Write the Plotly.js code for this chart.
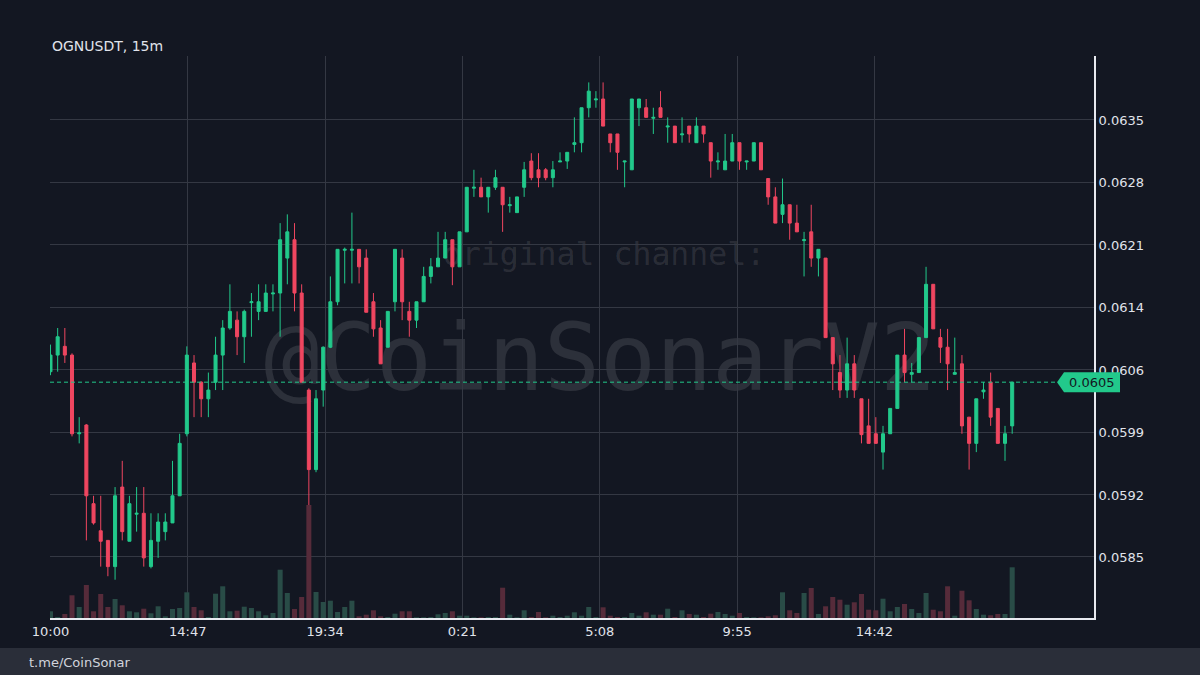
<!DOCTYPE html>
<html>
<head>
<meta charset="utf-8">
<script src="https://cdn.plot.ly/plotly-3.0.1.min.js"></script>
<style>
  html, body { margin: 0; padding: 0; background: #131722; }
  #wrap { position: relative; width: 1200px; height: 675px; overflow: hidden; }
  #wm { position: absolute; left: 0; top: 0; z-index: 0; }
  #chart { position: absolute; left: 0; top: 0; width: 1200px; height: 675px; z-index: 1; }
</style>
</head>
<body>
<div id="wrap">
  <svg id="wm" width="1200" height="675" xmlns="http://www.w3.org/2000/svg">
    <text x="604" y="265" text-anchor="middle" font-family="DejaVu Sans Mono" font-size="31.5" fill="rgba(255,255,255,0.11)">original channel:</text>
    <text x="600" y="390" text-anchor="middle" font-family="DejaVu Sans Mono" font-size="93" fill="rgba(255,255,255,0.11)">@CoinSonarV2</text>
  </svg>
  <div id="chart"></div>
</div>
<script>
// ---- data (OGNUSDT, 15m candles) ----
const symbolTitle = "OGNUSDT, 15m";
const footerText = "t.me/CoinSonar";
const startTime = "2024-01-01 10:00";
const intervalMinutes = 15;

const open = [0.06062,0.06081,0.06091,0.06081,0.05991,0.06001,0.05911,0.05880,0.05869,0.05839,
0.05930,0.05868,0.05899,0.05900,0.05839,0.05868,0.05879,0.05889,0.05920,0.05991,
0.06072,0.06050,0.06031,0.06050,0.06081,0.06112,0.06121,0.06102,0.06141,0.06131,
0.06131,0.06151,0.06152,0.06192,0.06213,0.06152,0.06041,0.05950,0.06041,0.06090,
0.06142,0.06201,0.06201,0.06202,0.06192,0.06142,0.06112,0.06090,0.06142,0.06192,
0.06131,0.06121,0.06142,0.06171,0.06182,0.06192,0.06213,0.06182,0.06222,0.06272,
0.06273,0.06262,0.06273,0.06273,0.06252,0.06244,0.06273,0.06303,0.06293,0.06293,
0.06284,0.06302,0.06303,0.06322,0.06324,0.06364,0.06373,0.06374,0.06334,0.06334,
0.06302,0.06293,0.06364,0.06364,0.06352,0.06364,0.06342,0.06343,0.06333,0.06343,
0.06324,0.06343,0.06324,0.06302,0.06293,0.06303,0.06324,0.06302,0.06303,0.06324,
0.06283,0.06262,0.06242,0.06253,0.06232,0.06212,0.06222,0.06192,0.06192,0.06101,
0.06061,0.06041,0.06071,0.06031,0.06000,0.05991,0.05970,0.05991,0.06020,0.06081,
0.06059,0.06061,0.06101,0.06162,0.06101,0.06090,0.06059,0.06071,0.06010,0.05980,
0.06039,0.06050,0.06020,0.05980,0.06000];

const high = [0.06093,0.06112,0.06112,0.06083,0.06010,0.06002,0.05920,0.05920,0.05869,0.05930,
0.05960,0.05920,0.05930,0.05930,0.05900,0.05900,0.05900,0.05960,0.05991,0.06091,
0.06081,0.06051,0.06061,0.06102,0.06121,0.06162,0.06131,0.06133,0.06152,0.06162,
0.06162,0.06162,0.06232,0.06242,0.06232,0.06162,0.06043,0.06041,0.06091,0.06171,
0.06202,0.06204,0.06244,0.06202,0.06202,0.06152,0.06121,0.06131,0.06202,0.06202,
0.06142,0.06142,0.06182,0.06192,0.06222,0.06222,0.06213,0.06222,0.06273,0.06293,
0.06284,0.06273,0.06293,0.06273,0.06262,0.06262,0.06302,0.06312,0.06312,0.06295,
0.06303,0.06313,0.06313,0.06353,0.06364,0.06393,0.06383,0.06393,0.06334,0.06334,
0.06303,0.06374,0.06374,0.06374,0.06364,0.06383,0.06353,0.06343,0.06353,0.06343,
0.06353,0.06343,0.06324,0.06313,0.06334,0.06334,0.06324,0.06303,0.06324,0.06324,
0.06283,0.06273,0.06283,0.06253,0.06253,0.06222,0.06253,0.06202,0.06192,0.06101,
0.06081,0.06101,0.06081,0.06031,0.06031,0.06010,0.06000,0.06020,0.06081,0.06111,
0.06072,0.06101,0.06182,0.06162,0.06111,0.06111,0.06101,0.06081,0.06010,0.06031,
0.06050,0.06061,0.06020,0.06000,0.06050];

const low = [0.06058,0.06062,0.06072,0.05988,0.05980,0.05869,0.05887,0.05839,0.05828,0.05824,
0.05869,0.05868,0.05879,0.05839,0.05837,0.05849,0.05869,0.05889,0.05920,0.05988,
0.06010,0.06010,0.06010,0.06041,0.06041,0.06110,0.06081,0.06072,0.06102,0.06121,
0.06131,0.06131,0.06102,0.06162,0.06131,0.06050,0.05906,0.05947,0.06022,0.06089,
0.06138,0.06163,0.06163,0.06163,0.06130,0.06102,0.06071,0.06090,0.06131,0.06121,
0.06102,0.06112,0.06142,0.06163,0.06182,0.06192,0.06161,0.06182,0.06222,0.06262,
0.06262,0.06244,0.06270,0.06222,0.06244,0.06244,0.06262,0.06281,0.06273,0.06281,
0.06273,0.06302,0.06294,0.06313,0.06313,0.06353,0.06364,0.06343,0.06313,0.06293,
0.06273,0.06293,0.06343,0.06353,0.06334,0.06353,0.06324,0.06324,0.06324,0.06324,
0.06324,0.06324,0.06284,0.06293,0.06293,0.06303,0.06293,0.06293,0.06303,0.06293,
0.06253,0.06232,0.06232,0.06213,0.06222,0.06171,0.06182,0.06171,0.06101,0.06041,
0.06032,0.06032,0.06032,0.05980,0.05980,0.05980,0.05950,0.05991,0.06020,0.06050,
0.06050,0.06061,0.06101,0.06111,0.06072,0.06041,0.06059,0.05991,0.05950,0.05970,
0.06031,0.06000,0.05980,0.05960,0.05991];

const close = [0.06081,0.06102,0.06081,0.05991,0.05992,0.05920,0.05889,0.05868,0.05839,0.05920,
0.05879,0.05911,0.05900,0.05849,0.05869,0.05890,0.05890,0.05920,0.05980,0.06081,
0.06050,0.06031,0.06041,0.06081,0.06112,0.06131,0.06102,0.06131,0.06142,0.06142,
0.06152,0.06152,0.06213,0.06222,0.06152,0.06050,0.05950,0.06031,0.06090,0.06142,
0.06202,0.06202,0.06202,0.06182,0.06130,0.06111,0.06071,0.06131,0.06202,0.06142,
0.06121,0.06142,0.06171,0.06182,0.06192,0.06213,0.06182,0.06222,0.06273,0.06273,
0.06262,0.06273,0.06284,0.06253,0.06253,0.06262,0.06293,0.06284,0.06284,0.06284,
0.06293,0.06303,0.06313,0.06324,0.06364,0.06383,0.06374,0.06343,0.06324,0.06313,
0.06303,0.06374,0.06374,0.06353,0.06353,0.06353,0.06343,0.06324,0.06334,0.06334,
0.06343,0.06334,0.06303,0.06303,0.06303,0.06324,0.06303,0.06303,0.06324,0.06293,
0.06262,0.06232,0.06253,0.06232,0.06222,0.06213,0.06192,0.06202,0.06101,0.06071,
0.06041,0.06071,0.06041,0.05990,0.05980,0.05980,0.05991,0.06020,0.06081,0.06061,
0.06061,0.06101,0.06162,0.06111,0.06090,0.06071,0.06061,0.06000,0.05980,0.06031,
0.06041,0.06010,0.05980,0.05991,0.06050];

const volume = [67,10,40,227,110,330,67,240,110,190,127,67,57,93,47,117,17,90,100,257,
110,77,10,243,317,67,73,113,100,67,27,50,483,250,90,210,1130,260,160,173,
60,110,173,17,33,77,17,10,43,67,67,7,7,10,37,50,67,23,23,7,
7,10,10,303,33,7,77,10,60,7,23,10,23,57,23,110,10,107,23,10,
10,50,23,57,33,33,93,10,77,40,33,10,43,60,40,23,50,10,7,7,
17,27,257,77,50,250,300,40,117,210,183,133,157,240,83,77,193,67,110,140,
90,50,250,83,67,317,23,273,177,90,33,27,40,40,507];

const xTickTimes = ["2024-01-01 10:00","2024-01-01 14:47","2024-01-01 19:34","2024-01-02 00:21",
                    "2024-01-02 05:08","2024-01-02 09:55","2024-01-02 14:42"];
const xTickLabels = ["10:00","14:47","19:34","0:21","5:08","9:55","14:42"];
const yTickVals = [0.05850,0.05921,0.05993,0.06064,0.06135,0.06207,0.06278,0.06350];
const yTickLabels = ["0.0585","0.0592","0.0599","0.0606","0.0614","0.0621","0.0628","0.0635"];

// ---- helpers ----
function pad(n){ return (n < 10 ? "0" : "") + n; }
function fmt(ms){
  const d = new Date(ms);
  return d.getUTCFullYear() + "-" + pad(d.getUTCMonth()+1) + "-" + pad(d.getUTCDate()) +
         " " + pad(d.getUTCHours()) + ":" + pad(d.getUTCMinutes());
}
const t0 = Date.UTC(2024, 0, 1, 10, 0);
const times = close.map((_, i) => fmt(t0 + i * intervalMinutes * 60000));

const UP = "#22c98b", DOWN = "#ef4660";
const VOL_UP = "#294c47", VOL_DOWN = "#562b3a";
const volColors = close.map((c, i) => c >= open[i] ? VOL_UP : VOL_DOWN);

const yMin = 0.057802, yMax = 0.064232;
const lastClose = close[close.length - 1];
const lastUp = lastClose >= open[open.length - 1];
const tagColor = lastUp ? UP : DOWN;
const py = (lastClose - yMin) / (yMax - yMin);
const hh = 10 / 562;

const traces = [
  {
    type: "bar", x: times, y: volume, yaxis: "y2",
    marker: { color: volColors, line: { width: 0 } },
    hoverinfo: "skip", showlegend: false
  },
  {
    type: "candlestick", x: times, open: open, high: high, low: low, close: close,
    increasing: { line: { color: UP, width: 1 }, fillcolor: UP },
    decreasing: { line: { color: DOWN, width: 1 }, fillcolor: DOWN },
    whiskerwidth: 0, hoverinfo: "skip", showlegend: false
  }
];

const axisFont = { family: "DejaVu Sans", size: 13, color: "#e0e3eb" };
const layout = {
  width: 1200, height: 675,
  margin: { l: 50, r: 106, t: 56, b: 57 },
  paper_bgcolor: "rgba(0,0,0,0)",
  plot_bgcolor: "rgba(0,0,0,0)",
  showlegend: false,
  bargap: 0.3,
  boxgap: 0.4,
  xaxis: {
    type: "date",
    range: ["2024-01-01 09:59", "2024-01-02 22:21"],
    tickmode: "array", tickvals: xTickTimes, ticktext: xTickLabels,
    showgrid: true, gridcolor: "#343843", gridwidth: 1,
    showline: true, linecolor: "#e8eaf0", linewidth: 2,
    ticks: "", tickfont: axisFont, zeroline: false,
    rangeslider: { visible: false }, fixedrange: true
  },
  yaxis: {
    side: "right", range: [yMin, yMax],
    tickmode: "array", tickvals: yTickVals, ticktext: yTickLabels,
    showgrid: true, gridcolor: "#343843", gridwidth: 1,
    showline: true, linecolor: "#e8eaf0", linewidth: 2,
    ticks: "", ticklen: 0, tickfont: axisFont, zeroline: false, fixedrange: true
  },
  yaxis2: {
    overlaying: "y", range: [0, 5620], visible: false, fixedrange: true
  },
  shapes: [
    { type: "rect", xref: "paper", yref: "paper", x0: -0.06, x1: 1.12, y0: -0.0534, y1: -0.12,
      fillcolor: "#2a2e39", line: { width: 0 }, layer: "below" },
    { type: "line", xref: "paper", yref: "paper", x0: 0, x1: 0.965, y0: py, y1: py,
      line: { color: tagColor, width: 1, dash: "4px,3px" } },
    { type: "path", xref: "paper", yref: "paper",
      path: "M 0.9646 " + py + " L 0.9713 " + (py + hh) + " L 1.0249 " + (py + hh) +
            " L 1.0249 " + (py - hh) + " L 0.9713 " + (py - hh) + " Z",
      fillcolor: tagColor, line: { width: 0 } }
  ],
  annotations: [
    { text: symbolTitle, xref: "paper", yref: "paper", x: 0, y: (618 - 46) / 562,
      xanchor: "left", yanchor: "middle", showarrow: false,
      font: { family: "DejaVu Sans", size: 14, color: "#e0e3eb" } },
    { text: lastClose.toFixed(4), xref: "paper", yref: "paper", x: 0.998, y: py,
      xanchor: "center", yanchor: "middle", showarrow: false,
      font: { family: "DejaVu Sans", size: 13, color: "#131722" } },
    { text: footerText, xref: "paper", yref: "paper", x: (27 - 50) / 1044, y: (618 - 662) / 562,
      xanchor: "left", yanchor: "middle", showarrow: false,
      font: { family: "DejaVu Sans", size: 13, color: "#d1d4dc" } }
  ]
};

Plotly.newPlot("chart", traces, layout, { staticPlot: true, displayModeBar: false });
</script>
</body>
</html>
